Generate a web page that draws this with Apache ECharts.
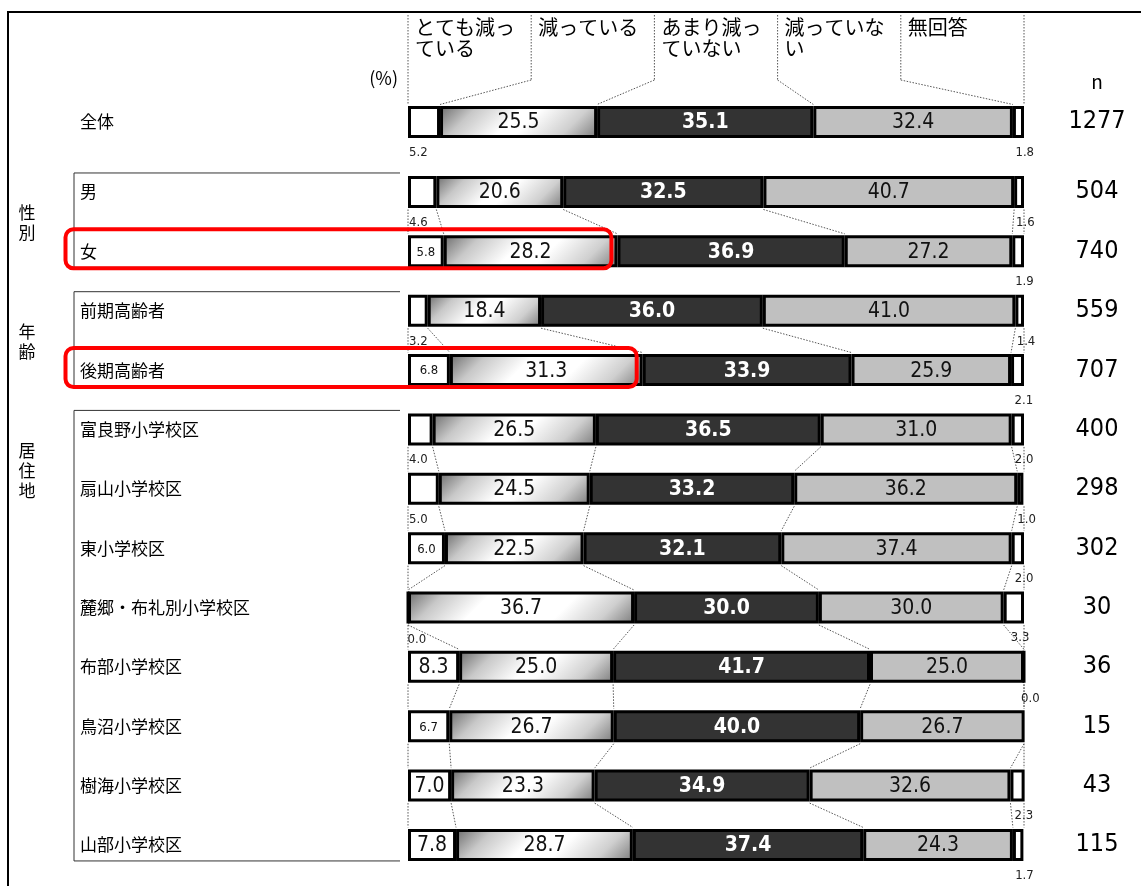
<!DOCTYPE html>
<html><head><meta charset="utf-8">
<script src="https://cdn.jsdelivr.net/npm/echarts@6/dist/echarts.min.js"></script>
<style>html,body{margin:0;padding:0;background:#fff}#c{width:1141px;height:886px}</style>
</head><body><div id="c"></div>
<script>
// ---- data ----
const rowLabels = ['全体','男','女','前期高齢者','後期高齢者','富良野小学校区','扇山小学校区','東小学校区','麓郷・布礼別小学校区','布部小学校区','鳥沼小学校区','樹海小学校区','山部小学校区'];
const nLabels = ['1277','504','740','559','707','400','298','302','30','36','15','43','115'];
const seriesNames = ['とても減っている','減っている','あまり減っていない','減っていない','無回答'];
const headerLabels = ['とても減っ\nている','減っている','あまり減っ\nていない','減っていな\nい','無回答'];
const veryDecreased = [5.2, 4.6, 5.8, 3.2, 6.8, 4.0, 5.0, 6.0, 0.0, 8.3, 6.7, 7.0, 7.8];
const decreased     = [25.5, 20.6, 28.2, 18.4, 31.3, 26.5, 24.5, 22.5, 36.7, 25.0, 26.7, 23.3, 28.7];
const notMuch       = [35.1, 32.5, 36.9, 36.0, 33.9, 36.5, 33.2, 32.1, 30.0, 41.7, 40.0, 34.9, 37.4];
const notDecreased  = [32.4, 40.7, 27.2, 41.0, 25.9, 31.0, 36.2, 37.4, 30.0, 25.0, 26.7, 32.6, 24.3];
const noAnswer      = [1.8, 1.6, 1.9, 1.4, 2.1, 2.0, 1.0, 2.0, 3.3, 0.0, 0.0, 2.3, 1.7];
const groups = [
  {label:'性別', rows:['男','女']},
  {label:'年齢', rows:['前期高齢者','後期高齢者']},
  {label:'居住地', rows:['富良野小学校区','扇山小学校区','東小学校区','麓郷・布礼別小学校区','布部小学校区','鳥沼小学校区','樹海小学校区','山部小学校区']}
];
const highlighted = ['女','後期高齢者'];
const pctLabel = '(%)';
const nHeader = 'n';

// ---- style ----
const JP = "'Noto Sans CJK JP', sans-serif";
const NUM = "'Liberation Sans Narrow','DejaVu Sans Condensed','Liberation Sans',sans-serif";
const allVals = [veryDecreased, decreased, notMuch, notDecreased, noAnswer];
const GL = 408, GW = 616, GR = 1141 - GL - GW, BW = 32;
function diagGrad(v) {
  const w = Math.max(v / 100 * GW, 1), L = w + BW;
  const a = Math.min(0.45, 85 / L);
  return new echarts.graphic.LinearGradient(0, 0, L / (2 * w), L / (2 * BW), [
    {offset:0, color:'#6a6a6a'}, {offset:a * 0.45, color:'#c8c8c8'}, {offset:a, color:'#ffffff'},
    {offset:1 - a, color:'#ffffff'}, {offset:1 - a * 0.45, color:'#cfcfcf'}, {offset:1, color:'#7a7a7a'}]);
}
const fills = ['#ffffff', null, '#333333', '#c0c0c0', '#ffffff'];

const chart = echarts.init(document.getElementById('c'), null, {renderer:'canvas'});

const grids = [
  {left:GL, right:GR, top:92.3, height:59.36},
  {left:GL, right:GR, top:162.3, height:59.36*12}
];
const slices = [[0,1],[1,13]];

function labelFor(k, v) {
  const base = {show:true, fontFamily:NUM, formatter: p => p.value.toFixed(1)};
  if (k === 0) {
    if (v < 5.5) return Object.assign(base, {position:['0%','100%'], offset:[1,8], fontSize:13, color:'#222'});
    return Object.assign(base, {position:'inside', offset:[0,1], fontSize: v < 7 ? 13 : 21, color:'#111'});
  }
  if (k === 4) return Object.assign(base, {position:['50%','100%'], offset:[-3,8], fontSize:13, color:'#222'});
  if (k === 2) return Object.assign(base, {position:'inside', offset:[0,1], fontSize:21, color:'#fff', fontWeight:'bold'});
  return Object.assign(base, {position:'inside', offset:[0,1], fontSize:21, color:'#111'});
}

const series = [];
for (let g = 0; g < 2; g++) {
  for (let k = 0; k < 5; k++) {
    const vals = allVals[k].slice(slices[g][0], slices[g][1]);
    series.push({
      type:'bar', name:seriesNames[k], stack:'s'+g, xAxisIndex:g, yAxisIndex:g*2,
      barWidth:BW, silent:true,
      itemStyle:{color:fills[k] || '#fff', borderColor:'#000', borderWidth:3},
      data: vals.map(v => {
        const d = {value:v, label:labelFor(k, v)};
        if (k === 1) d.itemStyle = {color: diagGrad(v)};
        return d;
      })
    });
  }
}

const xAxes = grids.map((_, g) => ({type:'value', gridIndex:g, min:0, max:100, show:false}));
const yAxes = [];
for (let g = 0; g < 2; g++) {
  yAxes.push({type:'category', gridIndex:g, inverse:true, data:rowLabels.slice(slices[g][0], slices[g][1]),
    axisLine:{show:false}, axisTick:{show:false}, splitLine:{show:false},
    axisLabel:{align:'left', margin:GL-80, fontSize:17, color:'#000', fontFamily:JP}});
  yAxes.push({type:'category', gridIndex:g, inverse:true, position:'right', data:nLabels.slice(slices[g][0], slices[g][1]),
    axisLine:{show:false}, axisTick:{show:false}, splitLine:{show:false},
    axisLabel:{align:'center', margin:73, fontSize:25, color:'#000', fontFamily:NUM}});
}

chart.setOption({animation:false, grid:grids, xAxis:xAxes, yAxis:yAxes, series:series});

// ---- decorations computed from the axes ----
function gridOfRow(name){ return name === rowLabels[0] ? 0 : 1; }
function px(x, name){ return chart.convertToPixel({gridIndex:gridOfRow(name)}, [x, name]); }
function cum(idx){ const c=[0]; let s=0; for (let k=0;k<5;k++){ s+=allVals[k][idx]; c.push(Math.min(s,100)); } c[5]=100; return c; }
const HALF = BW/2 + 1.5;
const dot = {stroke:'#555', lineWidth:1, lineDash:[1.5,1.5]};
const G = [];
// frame
G.push({type:'line', shape:{x1:7,y1:12,x2:1141,y2:12}, style:{stroke:'#000', lineWidth:2}});
G.push({type:'line', shape:{x1:8,y1:12,x2:8,y2:886}, style:{stroke:'#000', lineWidth:2}});
// header
const x0 = px(0, rowLabels[0])[0], x100 = px(100, rowLabels[0])[0];
const barTop = px(0, rowLabels[0])[1] - HALF;
const colW = (x100 - x0)/5;
const c0 = cum(0);
for (let k=0;k<=5;k++){
  const xc = x0 + k*colW;
  G.push({type:'line', shape:{x1:xc,y1:15,x2:xc,y2:(k===0||k===5)?barTop:80}, style:dot});
  if (k>0 && k<5) G.push({type:'line', shape:{x1:xc,y1:80,x2:px(c0[k], rowLabels[0])[0],y2:barTop}, style:dot});
  if (k<5) G.push({type:'text', style:{text:headerLabels[k], x:xc+7, y:17, font:'20px '+JP, lineHeight:21, fill:'#000', align:'left', verticalAlign:'top'}});
}
G.push({type:'text', style:{text:pctLabel, x:398, y:78, font:'18px '+JP, fill:'#000', align:'right', verticalAlign:'middle'}});
G.push({type:'text', style:{text:nHeader, x:1097, y:82, font:'19px '+JP, fill:'#000', align:'center', verticalAlign:'middle'}});
// groups
groups.forEach(gr => {
  const first = rowLabels.indexOf(gr.rows[0]), last = rowLabels.indexOf(gr.rows[gr.rows.length-1]);
  const top = px(0, gr.rows[0])[1] - 19, bottom = px(0, gr.rows[gr.rows.length-1])[1] + 16;
  G.push({type:'polyline', shape:{points:[[400,top],[74,top],[74,bottom],[400,bottom]]}, style:{stroke:'#333', lineWidth:1, fill:null}});
  G.push({type:'text', style:{text:gr.label.split('').join('\n'), x:27, y:top+30, font:'17px '+JP, lineHeight:20, fill:'#000', align:'center', verticalAlign:'top'}});
  for (let i=first;i<last;i++){
    const ca = cum(i), cb = cum(i+1);
    for (let k=0;k<=5;k++){
      const a = px(ca[k], rowLabels[i]), b = px(cb[k], rowLabels[i+1]);
      G.push({type:'line', shape:{x1:a[0],y1:a[1]+HALF,x2:b[0],y2:b[1]-HALF}, style:dot});
    }
  }
});
// highlight boxes
highlighted.forEach(name => {
  const i = rowLabels.indexOf(name);
  const c = cum(i);
  const right = px(c[2], name)[0] - 6, cy = px(0, name)[1];
  G.push({type:'rect', z:100, shape:{x:65.5, y:cy-22, width:right-65.5, height:39, r:8}, style:{fill:null, stroke:'#ff0000', lineWidth:4}});
});
chart.setOption({graphic:G});
</script></body></html>
